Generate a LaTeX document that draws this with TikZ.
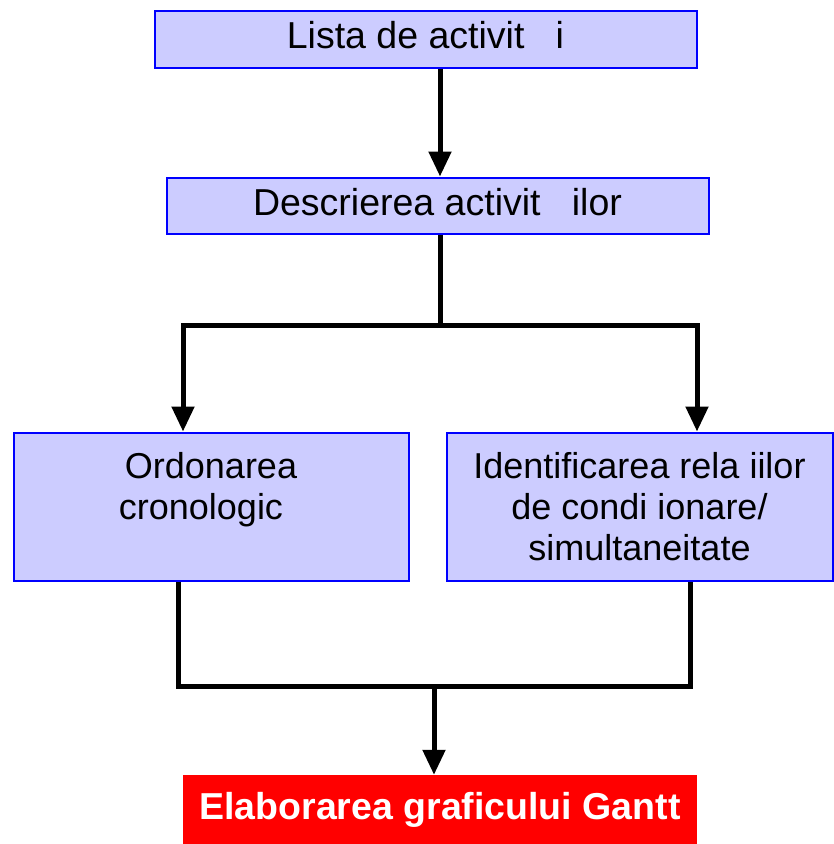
\documentclass[tikz,border=0pt]{standalone}
\usepackage{fontspec}
\setmainfont{Liberation Sans}
\usetikzlibrary{arrows.meta}
\definecolor{boxfill}{HTML}{CCCCFF}
\definecolor{boxline}{HTML}{0000FF}
\definecolor{gantred}{HTML}{FF0000}
\begin{document}
\begin{tikzpicture}[
    x=1pt, y=-1pt,
    stage/.style={rectangle, draw=boxline, fill=boxfill, line width=2pt, inner sep=0pt, text centered, align=center, font=\fontsize{37.5pt}{41pt}\selectfont},
    branch/.style={stage, font=\fontsize{36pt}{41pt}\selectfont},
    result/.style={rectangle, fill=gantred, inner sep=0pt, text=white, text centered, font=\fontsize{37.5pt}{41pt}\selectfont\bfseries},
    link/.style={line width=5pt},
    flow/.style={line width=5pt, -{Triangle[width=22pt,length=25pt]}}
]
\useasboundingbox (0,0) rectangle (834,844);

% Activity list
\node[stage, minimum width=542pt, minimum height=57pt] (list) at (425.5,39) {Lista de activit\phantom{ăţ}i};
\node[stage, minimum width=542pt, minimum height=56pt] (desc) at (437.5,205.5) {Descrierea activit\phantom{ăţ}ilor};

% Two branches
\node[branch, minimum width=395pt, minimum height=148pt] (order) at (211,506.5) {Ordonarea\\cronologic\phantom{ă}\\~};
\node[branch, minimum width=386pt, minimum height=148pt] (relat) at (639.5,506.5) {Identificarea rela\phantom{ţ}iilor\\de condi\phantom{ţ}ionare/\\simultaneitate};

% Gantt chart
\node[result, minimum width=514pt, minimum height=69pt] (gantt) at (440,809.5) {Elaborarea graficului Gantt};

% Junctions
\coordinate (top) at (440,0);
\coordinate (split) at (440,325);
\coordinate (splitL) at (183,325);
\coordinate (splitR) at (697,325);
\coordinate (join) at (434,686);
\coordinate (joinL) at (178,686);
\coordinate (joinR) at (690,686);

% Arrows
\draw[flow] (top |- list.south) -- (top |- desc.north);
\draw[link] (split |- desc.south) -- (split);
\draw[flow] (split) -| (splitL |- order.north);
\draw[flow] (split) -| (splitR |- relat.north);
\draw[link] (joinL |- order.south) |- (joinR) -- (joinR |- relat.south);
\draw[flow] (join) -- (join |- gantt.north);

\end{tikzpicture}
\end{document}
